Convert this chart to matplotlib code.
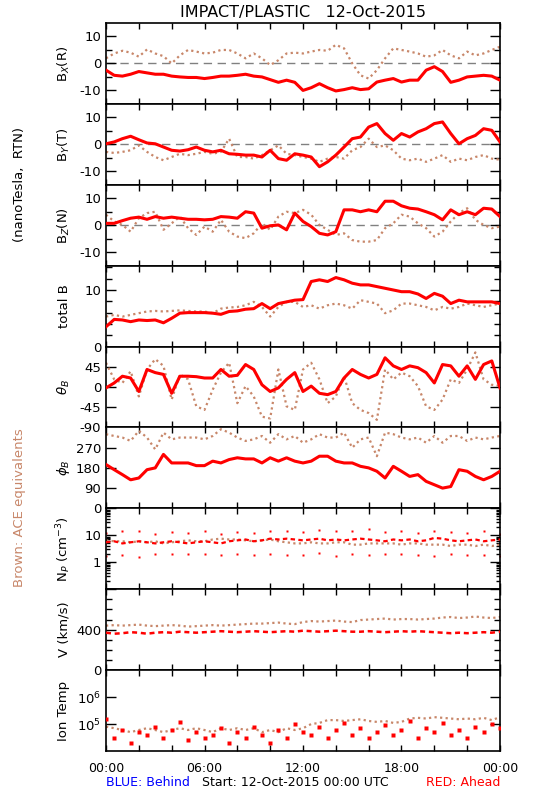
import numpy as np
import matplotlib

matplotlib.use("Agg")
import matplotlib.pyplot as plt
from matplotlib.ticker import FixedLocator, MultipleLocator, NullFormatter, FixedFormatter

RED = "#ff0000"
BROWN = "#c8876a"

# half-hour sample times (hours after 00:00 UTC)
hours = np.arange(0, 24.01, 0.5)
hours_1h = np.arange(0, 24.01, 1.0)

# magnetic field, nT  (Ahead = red, ACE = brown)
ahead_bx = [-2.5, -4.4, -4.7, -4.0, -3.0, -3.5, -4.0, -4.0, -4.7, -5.0, -5.2, -5.2, -5.6, -5.2, -4.7, -4.7,
            -4.4, -4.0, -4.7, -5.0, -6.0, -7.0, -6.2, -7.0, -10.0, -9.0, -7.5, -9.0, -10.2, -9.7, -9.0, -9.7,
            -9.4, -6.9, -6.2, -5.6, -6.9, -6.2, -6.2, -2.5, -1.2, -3.0, -7.0, -6.2, -5.0, -4.7, -4.4, -4.7, -6.2]
ace_bx = [1.9, 3.7, 4.7, 4.0, 2.5, 5.2, 3.7, 2.7, 0.0, 3.0, 5.0, 4.4, 3.7, 4.0, 5.0, 5.0,
          3.7, 1.9, 3.7, 1.9, -0.6, 1.2, 3.7, 4.0, 3.7, 4.4, 5.0, 4.7, 6.9, 5.6, 0.0, -4.4,
          -5.6, -2.5, 1.9, 5.6, 5.0, 4.4, 3.7, 2.5, 3.0, 5.0, 3.0, 1.9, 4.4, 3.0, 3.7, 5.0, 6.2]

ahead_by = [0.2, 0.9, 2.1, 3.0, 1.7, 0.5, 0.2, -1.0, -2.2, -2.5, -2.0, -1.0, -2.2, -2.8, -2.2, -3.5,
            -3.7, -4.0, -4.0, -4.7, -2.2, -5.3, -5.9, -3.5, -4.0, -4.7, -8.3, -6.5, -4.0, -1.0, 2.1, 2.7,
            6.4, 7.7, 4.0, 1.5, 4.0, 2.7, 4.6, 5.8, 7.7, 8.3, 4.0, 0.2, 2.1, 3.3, 5.8, 5.2, 0.9]
ace_by = [-2.8, -3.2, -2.8, -2.2, -0.4, -2.8, -4.7, -5.9, -4.7, -3.5, -4.0, -3.5, -2.8, -3.5, -2.8, 2.1,
          -4.7, -4.7, -5.3, -4.0, -2.2, -0.4, -3.5, -4.0, -4.7, -5.3, -6.5, -5.3, -4.7, -5.3, -2.2, -1.0,
          2.1, -1.0, -0.4, -2.2, -5.3, -5.9, -5.3, -6.5, -5.3, -4.0, -6.5, -5.3, -5.9, -4.7, -4.0, -5.3, -5.7]

ahead_bz = [0.7, 0.7, 1.7, 2.6, 3.0, 2.2, 3.2, 2.6, 3.0, 2.6, 2.2, 2.2, 2.0, 2.2, 3.2, 3.0,
            2.6, 5.0, 4.5, -1.1, -0.2, 0.1, -1.7, 4.5, 1.4, -0.5, -3.0, -3.6, -2.4, 5.7, 5.7, 5.0,
            5.7, 5.0, 8.9, 8.9, 7.2, 6.3, 6.0, 5.0, 3.9, 2.0, 5.7, 3.9, 5.0, 3.9, 6.3, 6.0, 3.2]
ace_bz = [3.9, 1.4, 0.1, -2.4, 2.6, 4.5, 5.0, -1.7, 0.7, 3.2, -1.1, -3.6, -0.5, -2.4, 2.0, -2.4,
          -4.2, -4.8, -3.0, 0.7, -1.7, 3.2, 5.0, 4.5, 5.7, 3.9, 0.1, -1.7, -3.6, -3.0, -5.5, -6.1,
          -6.1, -5.5, -1.1, 0.7, 3.9, 3.2, 0.7, -1.1, -4.2, -2.4, 1.4, 4.5, 6.3, 2.0, 0.1, -1.1, -0.5]

ahead_bt = [3.5, 4.8, 4.7, 4.4, 4.7, 4.6, 4.7, 4.2, 5.0, 5.9, 6.0, 6.0, 6.0, 5.9, 5.7, 6.2,
            6.3, 6.6, 6.7, 7.6, 6.7, 7.6, 7.9, 8.2, 8.3, 11.5, 11.8, 11.5, 12.2, 11.8, 11.2, 10.9,
            10.9, 10.6, 10.3, 10.0, 9.7, 9.7, 9.3, 8.5, 9.4, 8.9, 7.6, 8.2, 7.9, 7.9, 7.9, 7.9, 7.6]
ace_bt = [5.3, 5.6, 5.3, 5.6, 5.9, 6.2, 6.3, 6.2, 6.3, 6.4, 6.3, 6.2, 6.2, 5.9, 6.7, 6.9,
          7.0, 7.3, 7.9, 7.0, 5.3, 7.0, 7.9, 7.9, 7.0, 7.3, 6.7, 7.3, 7.6, 7.3, 6.7, 8.2,
          7.9, 7.6, 5.9, 6.4, 7.6, 7.6, 7.3, 7.0, 6.4, 7.0, 6.7, 7.0, 7.6, 7.3, 7.0, 7.3, 7.6]

ahead_theta = [-2, 9, 24, 20, -10, 39, 32, 28, -14, 24, 24, 23, 20, 20, 39, 24,
               26, 50, 39, 5, -10, -2, 17, 32, -10, 2, -14, -17, -10, 20, 39, 28,
               20, 28, 65, 47, 39, 47, 43, 32, 9, 50, 47, 24, 47, 17, 50, 58, -2]
ace_theta = [54, 17, 9, 35, -21, 39, 62, 47, -28, 28, 17, -43, -51, -6, 32, 54,
             -36, 2, -21, -66, -70, 39, -43, -51, 39, 54, 17, -36, -21, 24, -36, -51,
             -58, -73, 39, 17, 32, 24, 2, -43, -51, -28, 17, 9, 39, 77, 17, 5, 2]

ahead_phi = [195, 172, 150, 127, 135, 172, 180, 240, 202, 202, 202, 190, 190, 210, 202, 217,
             225, 220, 220, 202, 225, 210, 225, 210, 202, 210, 232, 232, 210, 202, 202, 187,
             180, 165, 135, 187, 165, 142, 150, 120, 105, 90, 97, 172, 165, 142, 127, 142, 165]
ace_phi = [330, 322, 315, 300, 345, 315, 262, 337, 307, 315, 315, 315, 307, 322, 352, 337,
           315, 300, 307, 322, 292, 330, 307, 322, 292, 307, 330, 315, 315, 337, 270, 307,
           315, 232, 337, 330, 315, 307, 315, 292, 322, 292, 322, 322, 300, 315, 307, 315, 322]

# plasma
ahead_np = [5.5, 6.0, 5.0, 5.5, 6.0, 5.5, 5.0, 5.5, 6.0, 5.5, 5.0, 5.5, 6.0, 5.5, 5.0, 6.0,
            6.5, 7.0, 6.0, 6.5, 7.5, 7.0, 7.5, 7.0, 6.5, 7.0, 7.5, 6.5, 7.0, 6.5, 7.0, 7.5,
            7.0, 6.5, 6.0, 7.0, 6.5, 7.0, 6.0, 6.5, 8.0, 7.5, 6.5, 6.0, 6.5, 7.0, 6.0, 6.5, 7.0]
ahead_np_hi = [12, 14, 15, 11, 13, 12, 14, 11, 13, 12, 15, 14, 13, 16, 15, 14, 17, 13, 14, 12, 15, 13, 12, 14, 11]
ahead_np_lo = [1.7, 1.8, 1.6, 2.0, 2.1, 2.0, 2.0, 1.9, 2.0, 1.8, 2.0, 1.8, 1.9,
               2.2, 1.7, 2.0, 1.9, 2.0, 2.0, 1.8, 1.7, 2.0, 1.9, 1.8, 1.7]
ace_np = [6.5, 6.0, 6.0, 5.5, 6.0, 5.5, 6.0, 5.0, 5.5, 6.0, 6.5, 6.0, 6.0, 7.0, 7.5, 7.0,
          7.0, 6.5, 6.0, 6.5, 7.0, 6.0, 5.5, 5.0, 5.0, 5.5, 5.0, 5.0, 5.5, 5.5, 4.5, 4.5,
          5.0, 5.0, 5.0, 5.0, 4.5, 5.0, 5.0, 4.5, 4.5, 4.5, 4.0, 4.5, 4.5, 4.0, 4.5, 4.0, 4.5]

ahead_v = [370, 360, 365, 375, 370, 360, 370, 375, 370, 380, 375, 370, 375, 380, 385, 380,
           375, 380, 385, 380, 375, 380, 385, 380, 390, 385, 380, 385, 390, 385, 380, 380,
           385, 380, 375, 380, 385, 380, 385, 380, 375, 370, 365, 370, 365, 370, 375, 370, 380]
ace_v = [440, 445, 440, 445, 450, 440, 435, 440, 445, 440, 430, 435, 440, 445, 440, 445,
         450, 455, 460, 460, 465, 470, 460, 455, 475, 485, 480, 485, 490, 480, 475, 495,
         500, 505, 510, 500, 505, 505, 500, 505, 510, 520, 525, 515, 520, 530, 520, 515, 525]

ace_temp = [8e4, 7e4, 6e4, 5e4, 6e4, 7e4, 6e4, 5e4, 6e4, 7e4, 6e4, 7e4, 6e4, 5e4, 7e4, 6e4,
            7e4, 6e4, 7e4, 5e4, 6e4, 5e4, 7e4, 6e4, 7e4, 1.0e5, 1.1e5, 1.4e5, 1.4e5, 1.3e5, 1.4e5, 1.5e5,
            1.3e5, 1.2e5, 1.3e5, 1.1e5, 1.2e5, 1.6e5, 1.7e5, 1.6e5, 1.8e5, 1.7e5, 1.6e5, 1.5e5, 1.6e5, 1.5e5,
            1.7e5, 1.4e5, 1.8e5]
ahead_temp = [1.5e5, 3e4, 6e4, 2e4, 5e4, 4e4, 8e4, 3e4, 6e4, 1.2e5, 2.5e4, 5e4, 3e4, 4e4, 7e4, 2e4,
              5e4, 3e4, 8e4, 4e4, 2e4, 6e4, 3e4, 1e5, 5e4, 4e4, 8e4, 3e4, 6e4, 1.1e5, 4e4, 7e4,
              3e4, 5e4, 9e4, 4e4, 6e4, 1.3e5, 3e4, 7e4, 5e4, 1.1e5, 4e4, 6e4, 3e4, 8e4, 5e4, 1e5, 7e4]

plt.rcParams.update({
    "font.family": "DejaVu Sans",
    "font.size": 9.5,
    "axes.unicode_minus": False,
    "axes.linewidth": 1.2,
    "xtick.direction": "in",
    "ytick.direction": "in",
})

W, H = 550, 800
fig = plt.figure(figsize=(W / 100, H / 100), dpi=100)
left, right = 106, 500
top, bottom = 23, 751
n = 9
ph = (bottom - top) / n

axes = []
for i in range(n):
    y0 = top + i * ph
    ax = fig.add_axes([left / W, 1 - (y0 + ph) / H, (right - left) / W, ph / H])
    ax.set_xlim(0, 24)
    ax.xaxis.set_major_locator(MultipleLocator(6))
    ax.xaxis.set_minor_locator(MultipleLocator(2))
    ax.tick_params(axis="x", which="both", top=True, bottom=True, length=4, width=1)
    ax.tick_params(axis="y", which="both", left=True, right=True, width=1)
    ax.tick_params(axis="y", which="major", length=7)
    ax.tick_params(axis="y", which="minor", length=4)
    if i < n - 1:
        ax.xaxis.set_major_formatter(NullFormatter())
    axes.append(ax)

dash = dict(color="#808080", lw=1.0, ls=(0, (6, 4)), zorder=1)
red_line = dict(color=RED, lw=2.2, zorder=3)
brown_line = dict(color=BROWN, lw=1.6, ls=(0, (1, 1.5)), zorder=2)

for ax, red, brown in zip(axes[:3], (ahead_bx, ahead_by, ahead_bz), (ace_bx, ace_by, ace_bz)):
    ax.axhline(0, **dash)
    ax.plot(hours, brown, **brown_line)
    ax.plot(hours, red, **red_line)
    ax.set_ylim(-15, 15)
    ax.yaxis.set_major_locator(FixedLocator([-10, 0, 10]))
    ax.yaxis.set_minor_locator(FixedLocator([-5, 5]))

ax = axes[3]
ax.plot(hours, ace_bt, **brown_line)
ax.plot(hours, ahead_bt, **red_line)
ax.set_ylim(0, 14.3)
ax.yaxis.set_major_locator(FixedLocator([0, 10]))
ax.yaxis.set_minor_locator(MultipleLocator(2))

ax = axes[4]
ax.plot(hours, ace_theta, **brown_line)
ax.plot(hours, ahead_theta, **red_line)
ax.set_ylim(-90, 90)
ax.yaxis.set_major_locator(FixedLocator([-90, -45, 0, 45]))

ax = axes[5]
ax.plot(hours, ace_phi, **brown_line)
ax.plot(hours, ahead_phi, **red_line)
ax.set_ylim(0, 360)
ax.yaxis.set_major_locator(FixedLocator([0, 90, 180, 270]))

ax = axes[6]
ax.set_yscale("log")
ax.plot(hours, ace_np, **brown_line)
ax.plot(hours, ahead_np, color=RED, lw=1.6, ls=(0, (2, 1.5)), zorder=3)
ax.plot(hours_1h, ahead_np_hi, ls="none", marker="s", ms=1.6, mec="none", color=RED)
ax.plot(hours_1h, ahead_np_lo, ls="none", marker="s", ms=1.6, mec="none", color=RED)
ax.set_ylim(0.1, 100)
ax.yaxis.set_major_locator(FixedLocator([0.1, 1, 10, 100]))
ax.yaxis.set_major_formatter(FixedFormatter(["", "1", "10", ""]))
ax.yaxis.set_minor_locator(FixedLocator([m * 10.0 ** e for e in (-1, 0, 1) for m in range(2, 10)]))
ax.yaxis.set_minor_formatter(NullFormatter())
ax.tick_params(axis="y", which="minor", length=3)

ax = axes[7]
ax.plot(hours, ace_v, **brown_line)
ax.plot(hours, ahead_v, color=RED, lw=1.8, ls=(0, (2, 1.5)), zorder=3)
ax.set_ylim(0, 800)
ax.yaxis.set_major_locator(FixedLocator([0, 400, 800]))
ax.yaxis.set_major_formatter(FixedFormatter(["0", "400", ""]))
ax.yaxis.set_minor_locator(MultipleLocator(100))

ax = axes[8]
ax.set_yscale("log")
ax.plot(hours, ace_temp, **brown_line)
ax.plot(hours, ahead_temp, ls="none", marker="s", ms=2.6, mec="none", color=RED, zorder=3)
ax.set_ylim(1e4, 1e7)
ax.yaxis.set_major_locator(FixedLocator([1e5, 1e6]))
ax.yaxis.set_major_formatter(FixedFormatter(["10$^5$", "10$^6$"]))
ax.yaxis.set_minor_locator(FixedLocator([]))
ax.set_xticks([0, 6, 12, 18, 24])
ax.set_xticklabels(["00:00", "06:00", "12:00", "18:00", "00:00"], fontsize=9)
ax.tick_params(axis="x", pad=8)

ylabels = ["B$_X$(R)", "B$_Y$(T)", "B$_Z$(N)", "total B", r"$\theta_B$", r"$\phi_B$",
           "N$_P$ (cm$^{-3}$)", "V (km/s)", "Ion Temp"]
for i, lab in enumerate(ylabels):
    yc = top + (i + 0.5) * ph
    fig.text(64 / W, 1 - yc / H, lab, rotation=90, ha="center", va="center", fontsize=9.5)

fig.text(303 / W, 1 - 12 / H, "IMPACT/PLASTIC   12-Oct-2015", ha="center", va="center", fontsize=11.5)
fig.text(20 / W, 1 - 185 / H, "(nanoTesla,  RTN)", rotation=90, ha="center", va="center", fontsize=9.5)
fig.text(20 / W, 1 - 508 / H, "Brown: ACE equivalents", rotation=90, ha="center", va="center",
         fontsize=9.5, color=BROWN)
fig.text(106 / W, 1 - 783 / H, "BLUE: Behind", ha="left", va="center", fontsize=9, color="#0000ff")
fig.text(202 / W, 1 - 783 / H, "Start: 12-Oct-2015 00:00 UTC", ha="left", va="center", fontsize=9)
fig.text(500 / W, 1 - 783 / H, "RED: Ahead", ha="right", va="center", fontsize=9, color=RED)

fig.savefig("out.png", dpi=100)
